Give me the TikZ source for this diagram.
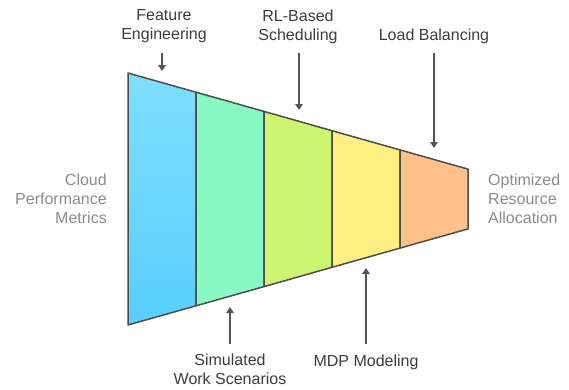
\documentclass[tikz,border=0pt]{standalone}
\usepackage{fontspec}
\setmainfont{Liberation Sans}
\usetikzlibrary{arrows.meta}
\definecolor{strokec}{HTML}{4D4D4D}
\definecolor{arrowc}{HTML}{555555}
\definecolor{labelc}{HTML}{3D3D3D}
\definecolor{sidec}{HTML}{8C8C8C}
\definecolor{blueT}{HTML}{80DEFF}
\definecolor{blueB}{HTML}{58CEFF}
\definecolor{greenc}{HTML}{88F9C2}
\definecolor{limec}{HTML}{CCF672}
\definecolor{yellowc}{HTML}{FFEE82}
\definecolor{orangec}{HTML}{FFC08A}
\tikzset{
  seg/.style={draw=strokec, line width=1.5pt, line join=round},
  toplabel/.style={anchor=north, inner sep=0pt, align=center, text=labelc,
    font=\fontsize{16}{19}\selectfont},
  sidelabel/.style={inner sep=0pt, text=sidec, font=\fontsize{16}{19}\selectfont},
  pointer/.style={draw=arrowc, line width=1.5pt, -{Triangle[length=6pt,width=7.5pt]}}
}
\begin{document}
\begin{tikzpicture}[x=1pt,y=-1pt]
\useasboundingbox (0,0) rectangle (569,389);
% funnel segments
\path[seg, top color=blueT, bottom color=blueB] (128,73) -- (196,92.2) -- (196,305.8) -- (128,325) -- cycle;
\path[seg, fill=greenc] (196,92.2) -- (264,111.4) -- (264,286.6) -- (196,305.8) -- cycle;
\path[seg, fill=limec] (264,111.4) -- (332,130.7) -- (332,267.3) -- (264,286.6) -- cycle;
\path[seg, fill=yellowc] (332,130.7) -- (400,149.9) -- (400,248.1) -- (332,267.3) -- cycle;
\path[seg, fill=orangec] (400,149.9) -- (468,169.1) -- (468,228.9) -- (400,248.1) -- cycle;
% labels
\node[toplabel] (fe) at (164,9.5) {Feature\\Engineering};
\node[toplabel] (rl) at (298,9.5) {RL-Based\\Scheduling};
\node[toplabel] (lb) at (434,28.5) {Load Balancing};
\node[toplabel] (sw) at (230,354) {Simulated\\Work Scenarios};
\node[toplabel] (mdp) at (366,355) {MDP Modeling};
\node[sidelabel, anchor=east, align=right] (cpm) at (107,199) {Cloud\\Performance\\Metrics};
\node[sidelabel, anchor=west, align=left] (ora) at (488,199) {Optimized\\Resource\\Allocation};
% arrow endpoints
\coordinate (fe1) at (162,53); \coordinate (fe2) at (162,71);
\coordinate (rl1) at (299,53); \coordinate (rl2) at (299,110);
\coordinate (lb1) at (434,53); \coordinate (lb2) at (434,148);
\coordinate (sw1) at (230,344); \coordinate (sw2) at (230,307);
\coordinate (mdp1) at (366,344); \coordinate (mdp2) at (366,268);
\draw[pointer] (fe1) -- (fe2);
\draw[pointer] (rl1) -- (rl2);
\draw[pointer] (lb1) -- (lb2);
\draw[pointer] (sw1) -- (sw2);
\draw[pointer] (mdp1) -- (mdp2);
\end{tikzpicture}
\end{document}
